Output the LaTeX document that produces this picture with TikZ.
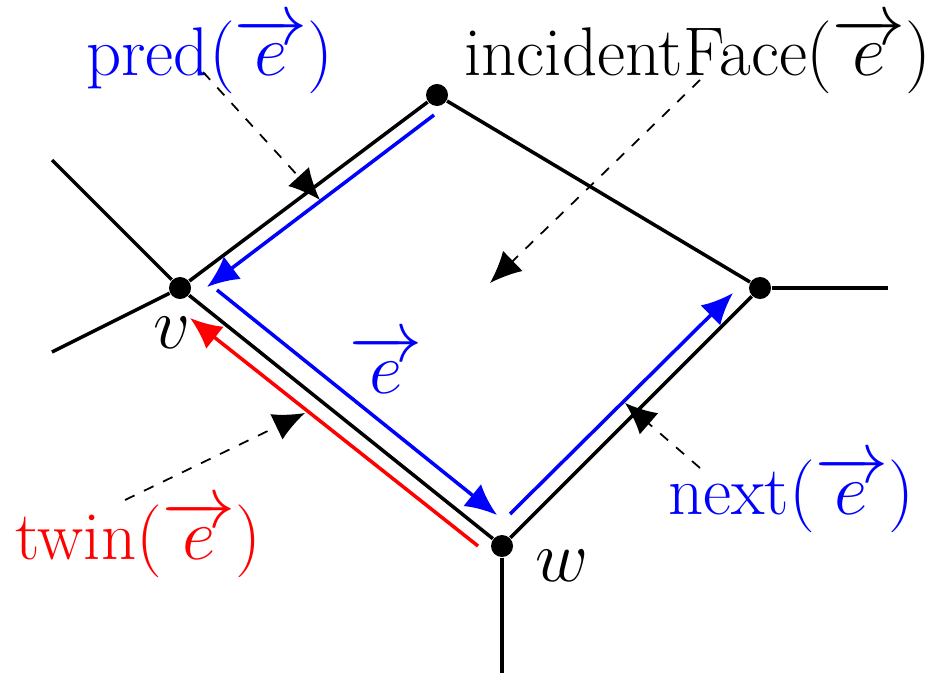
\documentclass[tikz,border=0pt]{standalone}
\usepackage{amsmath,amssymb}
\usepackage{tikz}
\usetikzlibrary{arrows.meta}

\begin{document}
\begin{tikzpicture}[x=0.01cm,y=-0.01cm,
  edge/.style={draw=black,line width=1pt},
  vtx/.style={circle,fill=black,inner sep=0pt,minimum size=0.22cm},
  half/.style={line width=1pt,-{Latex[length=9pt,width=8pt]}},
  ptr/.style={dashed,line width=0.5pt,-{Latex[length=9pt,width=8pt]}},
  lbl/.style={font=\fontsize{19.6}{24}\selectfont}]
  \useasboundingbox (0,0) rectangle (946,673);
  % vertices
  \node[vtx] (t) at (437,95) {};
  \node[vtx] (v) at (180,288) {};
  \node[vtx] (r) at (760,288) {};
  \node[vtx] (w) at (502,546) {};
  \coordinate (v1) at (52,160);
  \coordinate (v2) at (52,352);
  \coordinate (r1) at (888,288);
  \coordinate (w1) at (502,673);
  % edges
  \draw[edge] (t) -- (v) -- (w) -- (r) -- (t);
  \draw[edge] (v1) -- (v) -- (v2);
  \draw[edge] (r) -- (r1);
  \draw[edge] (w) -- (w1);
  % half-edges
  \coordinate (pa) at (434,115);
  \coordinate (pb) at (207,287);
  \coordinate (ea) at (217,290);
  \coordinate (eb) at (497,515);
  \coordinate (na) at (510,514);
  \coordinate (nb) at (733,293);
  \coordinate (ta) at (478,546);
  \coordinate (tb) at (190,318);
  \draw[half,blue] (pa) -- (pb);
  \draw[half,blue] (ea) -- (eb);
  \draw[half,blue] (na) -- (nb);
  \draw[half,red] (ta) -- (tb);
  % labels
  \node[lbl,text=blue] (lpred) at (210,56) {pred$(\overrightarrow{e})$};
  \node[lbl] (lface) at (698,56) {incidentFace$(\overrightarrow{e})$};
  \node[lbl,text=blue] (le) at (386,364) {$\overrightarrow{e}$};
  \node[lbl,text=blue] (lnext) at (791,494) {next$(\overrightarrow{e})$};
  \node[lbl,text=red] (ltwin) at (138,539) {twin$(\overrightarrow{e})$};
  \node[lbl] (lv) at (172,333) {$v$};
  \node[lbl] (lw) at (562,566) {$w$};
  % pointers
  \coordinate (qpred) at (320,200);
  \coordinate (qface) at (490,283);
  \coordinate (qtwin) at (305,413);
  \coordinate (qnext) at (625,403);
  \draw[ptr] (203,72) -- (qpred);
  \draw[ptr] (700,80) -- (qface);
  \draw[ptr] (125,500) -- (qtwin);
  \draw[ptr] (700,468) -- (qnext);
\end{tikzpicture}
\end{document}
